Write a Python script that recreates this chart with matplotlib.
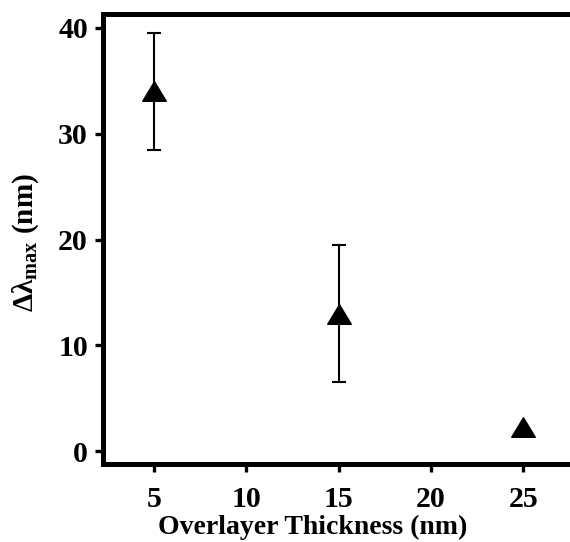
import matplotlib
matplotlib.use("Agg")
import matplotlib.pyplot as plt
import numpy as np

thickness = [5, 15, 25]
delta_lambda = [34.0, 13.0, 2.3]
err = [5.5, 6.5, np.nan]
xticks = [5, 10, 15, 20, 25]
yticks = [0, 10, 20, 30, 40]

plt.rcParams['font.family'] = ['Liberation Serif', 'DejaVu Serif']
plt.rcParams['font.weight'] = 'bold'
plt.rcParams['mathtext.fontset'] = 'custom'
plt.rcParams['mathtext.rm'] = 'Liberation Serif:bold'
plt.rcParams['mathtext.it'] = 'Liberation Serif:bold'
plt.rcParams['mathtext.bf'] = 'Liberation Serif:bold'

W, H = 570, 542
fig = plt.figure(figsize=(W/100, H/100), dpi=100)
left_px, right_px, top_px, bot_px = 102.5, 578.8, 14, 464
ax = fig.add_axes([left_px/W, 1-bot_px/H, (right_px-left_px)/W, (bot_px-top_px)/H])

tri = [(0, 0.83), (-1, -0.83), (1, -0.83), (0, 0.83)]
ax.errorbar(thickness, delta_lambda, yerr=err, fmt='none', ecolor='black',
            elinewidth=1.5, capsize=4.7, capthick=1.5, zorder=2)
ax.plot(thickness, delta_lambda, linestyle='none', marker=tri, markersize=17,
        color='black', zorder=3)

ax.set_xlim(2.2, 28)
ax.set_ylim(-1.2, 41.3)
ax.set_xticks(xticks)
ax.set_yticks(yticks)
for s in ax.spines.values():
    s.set_linewidth(3.6)
ax.tick_params(direction='out', length=5.5, width=2.4, labelsize=21.5)
ax.tick_params(axis='x', pad=10)
ax.tick_params(axis='y', pad=5)
for lab in ax.get_xticklabels() + ax.get_yticklabels():
    lab.set_fontweight('bold')

fig.text(312.5/W, 1-527/H, 'Overlayer Thickness (nm)', ha='center', va='center',
         fontsize=20, fontweight='bold')
fig.text(26/W, 1-243/H, r'$\mathrm{\Delta\lambda_{max}}$ (nm)', ha='center', va='center',
         rotation=90, fontsize=21, fontweight='bold')

fig.savefig('out.png', dpi=100)
